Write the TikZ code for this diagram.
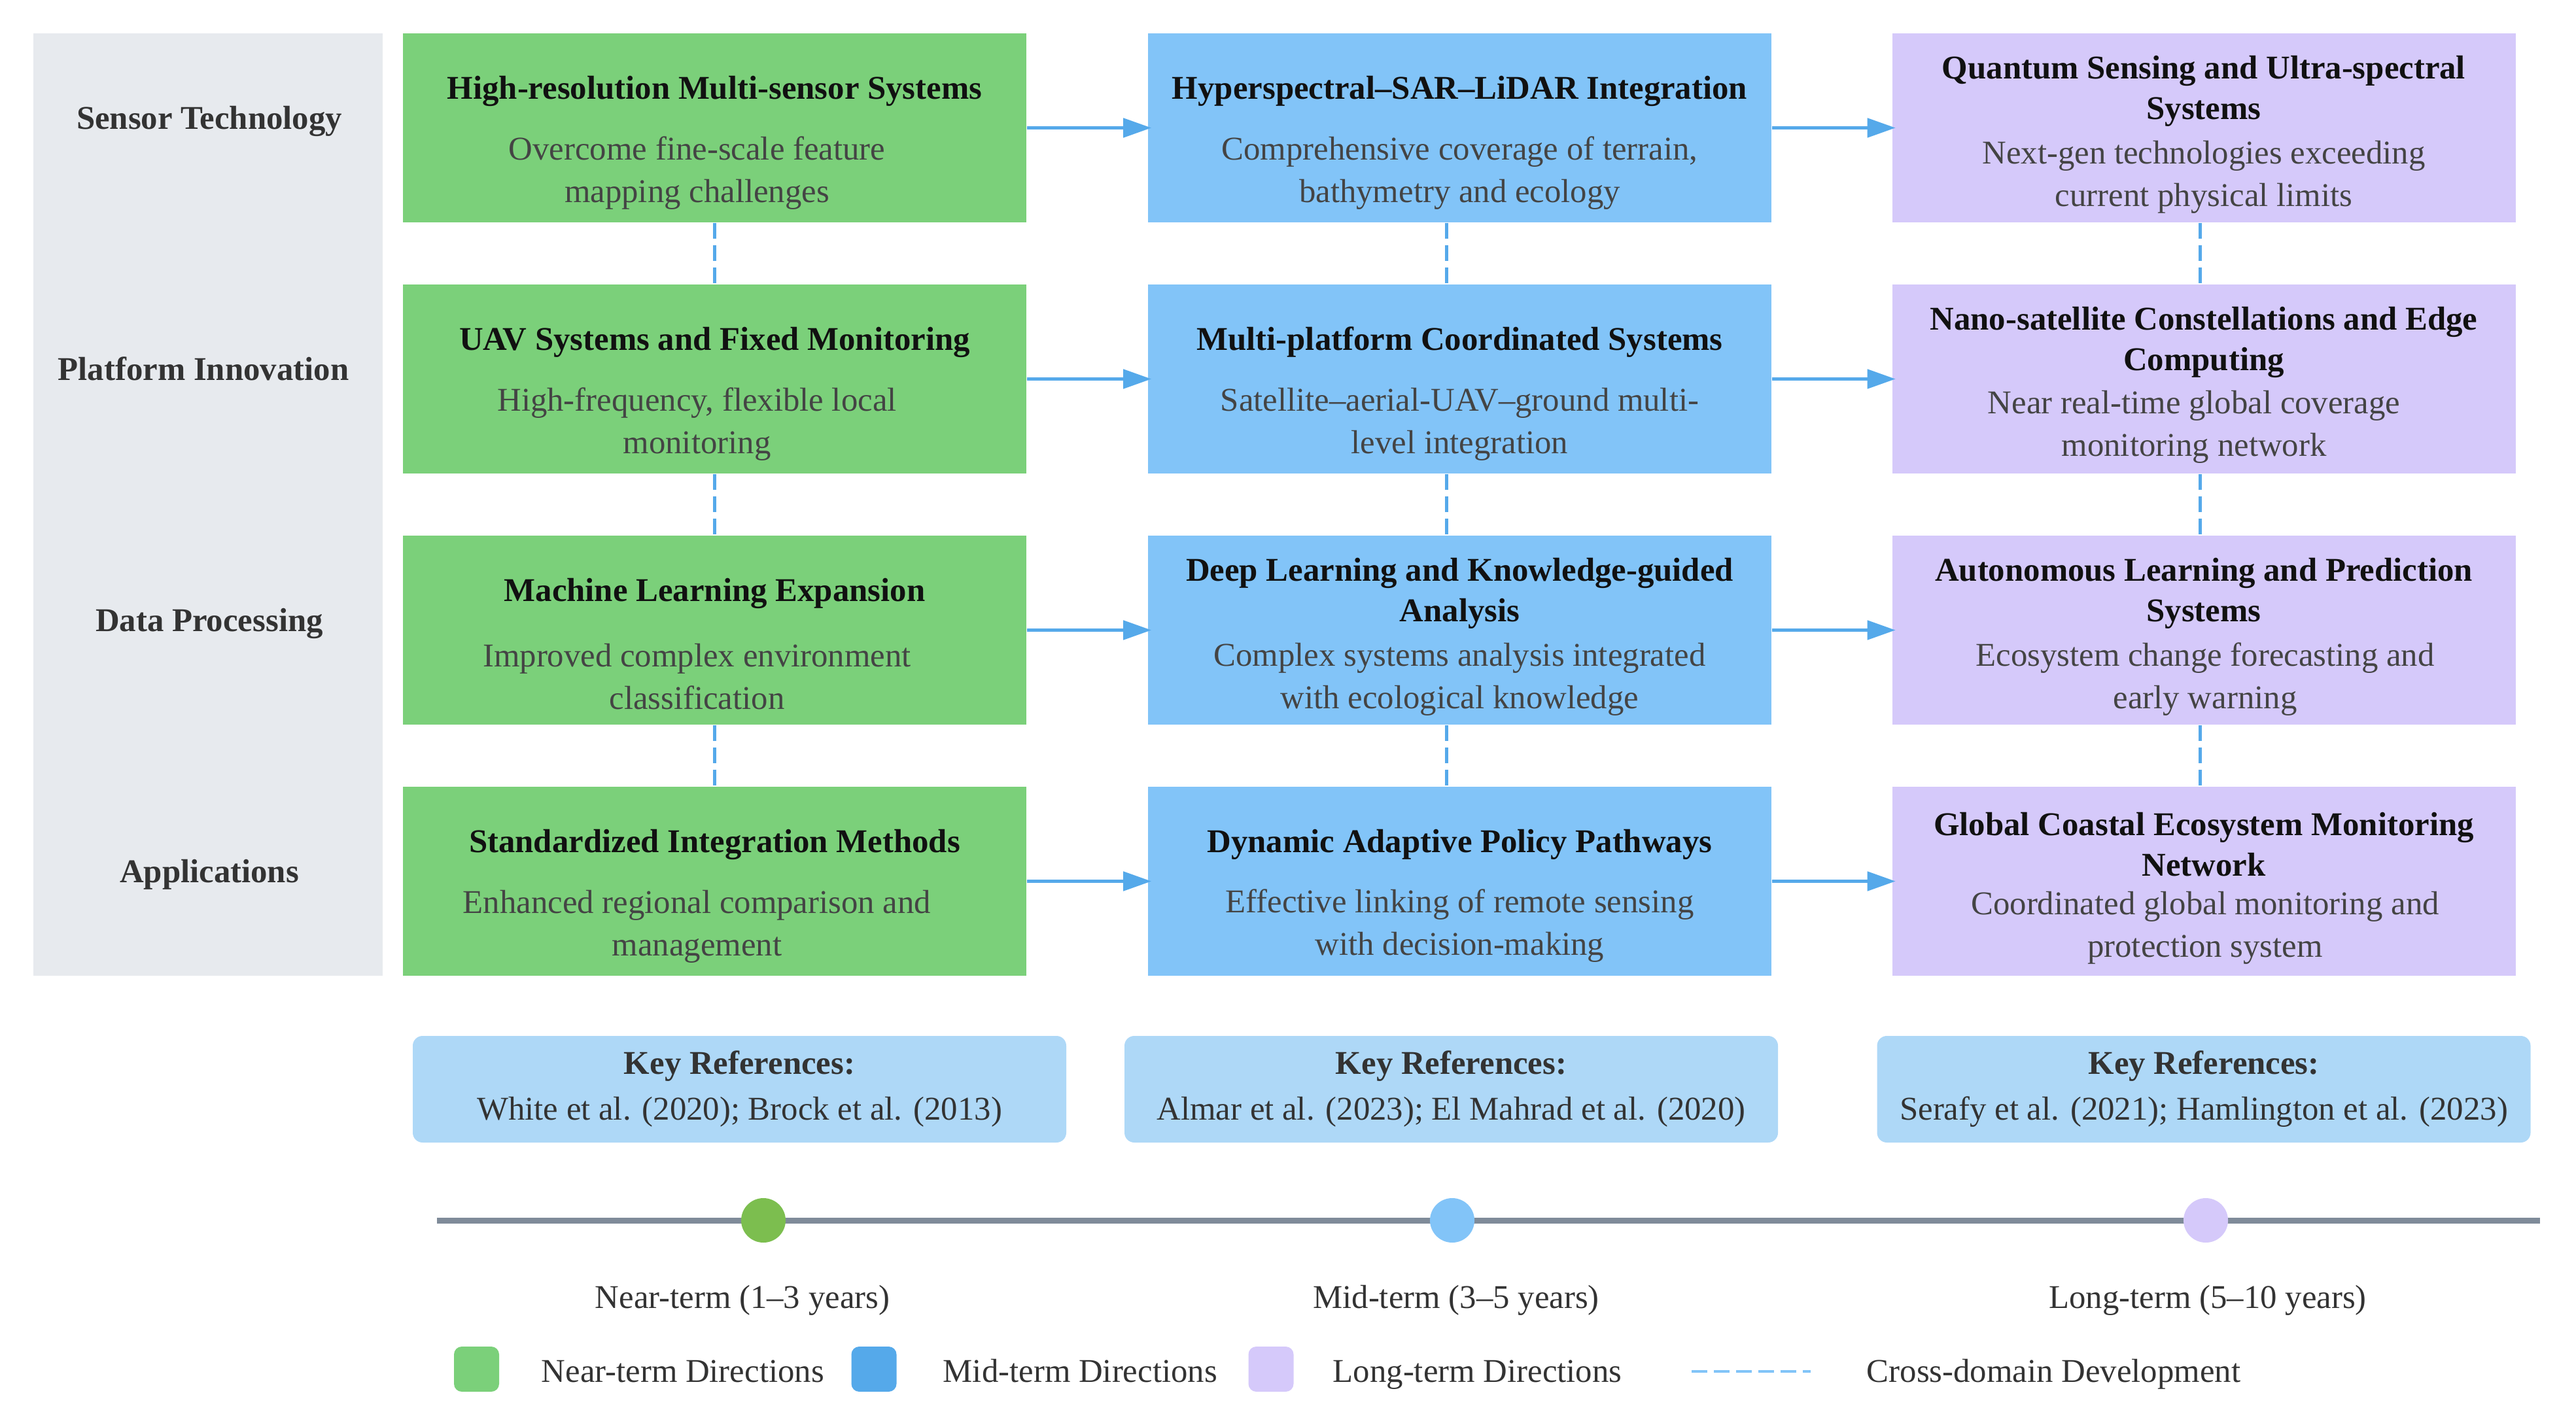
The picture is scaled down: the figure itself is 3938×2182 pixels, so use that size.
\documentclass[tikz,border=0pt]{standalone}
\usepackage{fontspec}
\setmainfont{Liberation Serif}
\usetikzlibrary{arrows.meta}

\definecolor{panelgrey}{HTML}{E7EAEE}
\definecolor{nearbox}{HTML}{7BD07A}
\definecolor{midbox}{HTML}{82C4F8}
\definecolor{longbox}{HTML}{D5C9FA}
\definecolor{refbox}{HTML}{AED8F7}
\definecolor{flowblue}{HTML}{55A9EA}
\definecolor{neardot}{HTML}{7CBE4F}
\definecolor{lineslate}{HTML}{7F8B99}
\definecolor{textdark}{HTML}{333333}
\definecolor{textdesc}{HTML}{444444}
\definecolor{texttitle}{HTML}{111111}

\tikzset{
  dirbox/.style={rectangle, minimum width=238.25pt, minimum height=72.25pt, inner sep=0pt},
  near/.style={dirbox, fill=nearbox},
  mid/.style={dirbox, fill=midbox},
  long/.style={dirbox, fill=longbox},
  boxtitle/.style={align=center, inner sep=0pt, text=texttitle, font=\fontsize{12.7}{15.5}\selectfont\bfseries},
  boxdesc/.style={align=center, inner sep=0pt, text=textdesc, font=\fontsize{12.7}{16.2}\selectfont},
  rowlabel/.style={anchor=base, inner sep=0pt, text=textdark, font=\fontsize{12.7}{15}\selectfont\bfseries},
  refnode/.style={rectangle, rounded corners=3.75pt, fill=refbox, minimum width=249.75pt, minimum height=40.75pt,
    inner sep=0pt, align=center, text=textdark, font=\fontsize{12.7}{17.5}\selectfont},
  flow/.style={draw=flowblue, line width=1.25pt, -{Triangle[length=10.75pt,width=7.25pt]}, shorten >=-1.5pt},
  cross/.style={draw=flowblue, line width=1.25pt, dash pattern=on 6pt off 2.5pt},
  timedot/.style={circle, minimum size=17pt, inner sep=0pt},
  timelabel/.style={anchor=base, inner sep=0pt, text=textdark, font=\fontsize{12.7}{15}\selectfont},
  keysquare/.style={rectangle, rounded corners=3pt, minimum size=17.25pt, inner sep=0pt},
  keytext/.style={anchor=base west, inner sep=0pt, text=textdark, font=\fontsize{12.7}{15}\selectfont},
}

\begin{document}
\begin{tikzpicture}[x=0.25pt, y=-0.25pt]
  \useasboundingbox (0,0) rectangle (3938,2182);

  % row headers
  \fill[panelgrey] (51,51) rectangle (585,1492);
  \node[rowlabel] (r1) at (320,197.5) {Sensor Technology};
  \node[rowlabel] (r2) at (311,581.5) {Platform Innovation};
  \node[rowlabel] (r3) at (320,965.5) {Data Processing};
  \node[rowlabel] (r4) at (320,1349.5) {Applications};

  % near-term column
  \node[near] (n1) at (1092.5,195.5) {};
  \node[boxtitle] (n1t) at ([yshift=14pt]n1.center) {High-resolution Multi-sensor Systems};
  \node[boxdesc] (n1d) at ([xshift=-6.75pt,yshift=-17.25pt]n1.center) {Overcome fine-scale feature\\mapping challenges};
  \node[near] (n2) at (1092.5,579.5) {};
  \node[boxtitle] (n2t) at ([yshift=14pt]n2.center) {UAV Systems and Fixed Monitoring};
  \node[boxdesc] (n2d) at ([xshift=-6.75pt,yshift=-17.25pt]n2.center) {High-frequency, flexible local\\monitoring};
  \node[near] (n3) at (1092.5,963.5) {};
  \node[boxtitle] (n3t) at ([yshift=14pt]n3.center) {Machine Learning Expansion};
  \node[boxdesc] (n3d) at ([xshift=-6.75pt,yshift=-17.75pt]n3.center) {Improved complex environment\\classification};
  \node[near] (n4) at (1092.5,1347.5) {};
  \node[boxtitle] (n4t) at ([yshift=14pt]n4.center) {Standardized Integration Methods};
  \node[boxdesc] (n4d) at ([xshift=-6.75pt,yshift=-17.25pt]n4.center) {Enhanced regional comparison and\\management};

  % mid-term column
  \node[mid] (m1) at (2231.5,195.5) {};
  \node[boxtitle] (m1t) at ([yshift=14pt]m1.center) {Hyperspectral–SAR–LiDAR Integration};
  \node[boxdesc] (m1d) at ([yshift=-17.25pt]m1.center) {Comprehensive coverage of terrain,\\bathymetry and ecology};
  \node[mid] (m2) at (2231.5,579.5) {};
  \node[boxtitle] (m2t) at ([yshift=14pt]m2.center) {Multi-platform Coordinated Systems};
  \node[boxdesc] (m2d) at ([yshift=-17.25pt]m2.center) {Satellite–aerial-UAV–ground multi-\\level integration};
  \node[mid] (m3) at (2231.5,963.5) {};
  \node[boxtitle] (m3t) at ([yshift=14pt]m3.center) {Deep Learning and Knowledge-guided\\Analysis};
  \node[boxdesc] (m3d) at ([yshift=-18.75pt]m3.center) {Complex systems analysis integrated\\with ecological knowledge};
  \node[mid] (m4) at (2231.5,1347.5) {};
  \node[boxtitle] (m4t) at ([yshift=14pt]m4.center) {Dynamic Adaptive Policy Pathways};
  \node[boxdesc] (m4d) at ([yshift=-17pt]m4.center) {Effective linking of remote sensing\\with decision-making};

  % long-term column
  \node[long] (l1) at (3369,195.5) {};
  \node[boxtitle] (l1t) at ([yshift=14pt]l1.center) {Quantum Sensing and Ultra-spectral\\Systems};
  \node[boxdesc] (l1d) at ([yshift=-18.75pt]l1.center) {Next-gen technologies exceeding\\current physical limits};
  \node[long] (l2) at (3369,579.5) {};
  \node[boxtitle] (l2t) at ([yshift=14pt]l2.center) {Nano-satellite Constellations and Edge\\Computing};
  \node[boxdesc] (l2d) at ([xshift=-3.75pt,yshift=-18.25pt]l2.center) {Near real-time global coverage\\monitoring network};
  \node[long] (l3) at (3369,963.5) {};
  \node[boxtitle] (l3t) at ([yshift=14pt]l3.center) {Autonomous Learning and Prediction\\Systems};
  \node[boxdesc] (l3d) at ([xshift=0.5pt,yshift=-18.75pt]l3.center) {Ecosystem change forecasting and\\early warning};
  \node[long] (l4) at (3369,1347.5) {};
  \node[boxtitle] (l4t) at ([yshift=14pt]l4.center) {Global Coastal Ecosystem Monitoring\\Network};
  \node[boxdesc] (l4d) at ([xshift=0.5pt,yshift=-17.75pt]l4.center) {Coordinated global monitoring and\\protection system};

  % flow between terms
  \foreach \r in {1,...,4} {
    \draw[flow] (n\r) -- (m\r);
    \draw[flow] (m\r) -- (l\r);
  }

  % cross-domain links
  \foreach \a/\b in {1/2,2/3,3/4} {
    \draw[cross] (n\a.south) -- (n\b.north);
    \draw[cross] ([xshift=-5pt]m\a.south) -- ([xshift=-5pt]m\b.north);
    \draw[cross] ([xshift=-1.5pt]l\a.south) -- ([xshift=-1.5pt]l\b.north);
  }

  % key references
  \node[refnode] (k1) at (1130.5,1665.5) {\textbf{Key References:}\\White et al. (2020); Brock et al. (2013)};
  \node[refnode] (k2) at (2218.5,1665.5) {\textbf{Key References:}\\Almar et al. (2023); El Mahrad et al. (2020)};
  \node[refnode] (k3) at (3369,1665.5) {\textbf{Key References:}\\Serafy et al. (2021); Hamlington et al. (2023)};

  % timeline
  \coordinate (tl0) at (668,1866);
  \coordinate (tl1) at (3883,1866);
  \draw[lineslate, line width=2.25pt] (tl0) -- (tl1);
  \node[timedot, fill=neardot] (d1) at (1167,1866) {};
  \node[timedot, fill=midbox] (d2) at (2220,1866) {};
  \node[timedot, fill=longbox] (d3) at (3372,1866) {};
  \node[timelabel] (t1) at (1135,2000) {Near-term (1–3 years)};
  \node[timelabel] (t2) at (2226,2000) {Mid-term (3–5 years)};
  \node[timelabel] (t3) at (3375,2000) {Long-term (5–10 years)};

  % legend
  \node[keysquare, fill=nearbox] (s1) at (728.5,2093.5) {};
  \node[keytext] (s1t) at (827,2113) {Near-term Directions};
  \node[keysquare, fill=flowblue] (s2) at (1336,2093.5) {};
  \node[keytext] (s2t) at (1441,2113) {Mid-term Directions};
  \node[keysquare, fill=longbox] (s3) at (1943,2093.5) {};
  \node[keytext] (s3t) at (2037,2113) {Long-term Directions};
  \coordinate (c0) at (2586,2097);
  \coordinate (c1) at (2768,2097);
  \draw[draw=midbox, line width=1pt, dash pattern=on 6pt off 2.5pt] (c0) -- (c1);
  \node[keytext] (c1t) at (2853,2113) {Cross-domain Development};
\end{tikzpicture}
\end{document}
